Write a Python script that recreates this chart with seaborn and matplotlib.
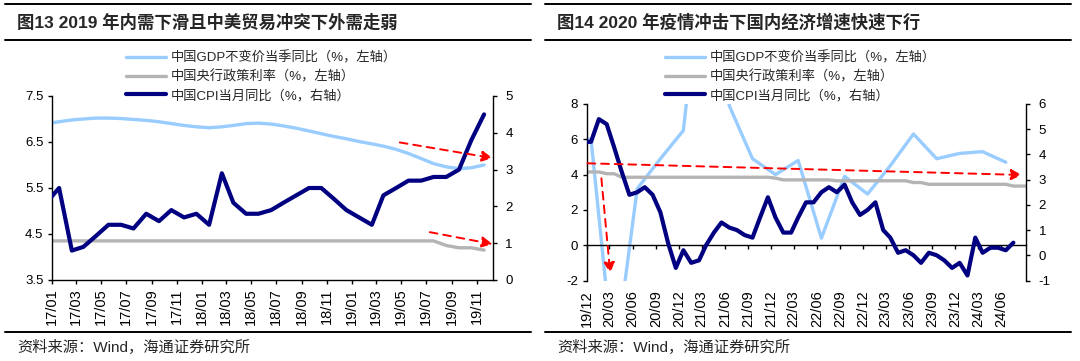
import pandas as pd
import matplotlib.pyplot as plt
from matplotlib.lines import Line2D
import matplotlib.dates as mdates
import seaborn as sns

# ---------------- data: left chart (monthly, 16/12 - 19/11) ----------------
p1_start, p1_end = "2016-12", "2019-11"
p1_gdp = [6.90, 6.94, 6.98, 7.00, 7.02, 7.02, 7.01, 6.99, 6.97, 6.94, 6.90, 6.86,
          6.83, 6.81, 6.83, 6.86, 6.90, 6.91, 6.89, 6.85, 6.80, 6.74, 6.68, 6.62,
          6.57, 6.51, 6.46, 6.41, 6.34, 6.25, 6.14, 6.03, 5.96, 5.92, 5.94, 6.00]
p1_rate = [4.35, 4.35, 4.35, 4.35, 4.35, 4.35, 4.35, 4.35, 4.35, 4.35, 4.35, 4.35,
           4.35, 4.35, 4.35, 4.35, 4.35, 4.35, 4.35, 4.35, 4.35, 4.35, 4.35, 4.35,
           4.35, 4.35, 4.35, 4.35, 4.35, 4.35, 4.35, 4.35, 4.25, 4.20, 4.20, 4.15]
p1_cpi = [2.1, 2.5, 0.8, 0.9, 1.2, 1.5, 1.5, 1.4, 1.8, 1.6, 1.9, 1.7, 1.8,
          1.5, 2.9, 2.1, 1.8, 1.8, 1.9, 2.1, 2.3, 2.5, 2.5, 2.2, 1.9,
          1.7, 1.5, 2.3, 2.5, 2.7, 2.7, 2.8, 2.8, 3.0, 3.8, 4.5]
p1_tick_start, p1_tick_end = "2017-01-01", "2019-11-01"
p1_xmax = "2019-12-10"
p1_left_ticks = [3.5, 4.5, 5.5, 6.5, 7.5]
p1_right_ticks = [0, 1, 2, 3, 4, 5]
# red arrows (start date, start value, end date, end value), left-axis units
p1_arrows = [("2019-04-28", 6.49, "2019-12-10", 6.15),
             ("2019-07-10", 4.54, "2019-12-10", 4.28)]

# ---------------- data: right chart (monthly, 19/11 - 24/09) ----------------
p2_rate_start, p2_rate_end = "2019-11", "2024-09"
p2_rate = [4.15, 4.15, 4.15, 4.05, 4.05,
           3.85, 3.85, 3.85, 3.85, 3.85, 3.85, 3.85, 3.85, 3.85, 3.85,
           3.85, 3.85, 3.85, 3.85, 3.85, 3.85, 3.85, 3.85, 3.85, 3.85,
           3.80, 3.70, 3.70, 3.70, 3.70, 3.70, 3.70, 3.70,
           3.65, 3.65, 3.65, 3.65, 3.65, 3.65, 3.65, 3.65, 3.65, 3.65,
           3.55, 3.55, 3.45, 3.45, 3.45, 3.45, 3.45, 3.45, 3.45, 3.45,
           3.45, 3.45, 3.45, 3.35, 3.35, 3.35]
p2_cpi_start, p2_cpi_end = "2019-11", "2024-07"
p2_cpi = [4.5, 4.5,
          5.4, 5.2, 4.3, 3.3, 2.4, 2.5, 2.7, 2.4, 1.7, 0.5, -0.5, 0.2,
          -0.3, -0.2, 0.4, 0.9, 1.3, 1.1, 1.0, 0.8, 0.7, 1.5, 2.3, 1.5,
          0.9, 0.9, 1.5, 2.1, 2.1, 2.5, 2.7, 2.5, 2.8, 2.1, 1.6, 1.8,
          2.1, 1.0, 0.7, 0.1, 0.2, 0.0, -0.3, 0.1, 0.0, -0.2, -0.5, -0.3,
          -0.8, 0.7, 0.1, 0.3, 0.3, 0.2, 0.5]
p2_gdp_start, p2_gdp_end = "2019-09", "2024-06"
p2_gdp = [6.0, 6.0, -6.8, 3.2, 4.9, 6.5, 18.3, 7.9, 4.9, 4.0,
          4.8, 0.4, 3.9, 2.9, 4.5, 6.3, 4.9, 5.2, 5.3, 4.7]
p2_tick_start, p2_tick_end = "2019-12-01", "2024-06-01"
p2_xmax = "2024-09-07"
p2_left_ticks = [-2, 0, 2, 4, 6, 8]
p2_right_ticks = [-1, 0, 1, 2, 3, 4, 5, 6]
p2_arrows = [("2019-12-05", 4.64, "2024-08-22", 3.98),
             ("2020-01-29", 3.79, "2020-03-04", -1.59)]

titles = ["图13 2019 年内需下滑且中美贸易冲突下外需走弱",
          "图14 2020 年疫情冲击下国内经济增速快速下行"]
legend_labels = ["中国GDP不变价当季同比（%，左轴）",
                 "中国央行政策利率（%，左轴）",
                 "中国CPI当月同比（%，右轴）"]
source = "资料来源：Wind，海通证券研究所"

GDP_C, RATE_C, CPI_C = "#99CCFF", "#B4B4B4", "#000080"


def month_points(start, end, freq="MS"):
    # Wind exports plot each month's value a bit past the start of the month
    return pd.date_range(start, end, freq=freq) + pd.Timedelta(days=18)


sns.set_theme(style="ticks")
plt.rcParams["font.family"] = ["Liberation Sans", "Noto Sans CJK SC"]
plt.rcParams["axes.linewidth"] = 1.0

W, H = 1080, 361
fig = plt.figure(figsize=(W / 100, H / 100), dpi=100, facecolor="white")


def fx(px):
    return px / W


def fy(py):
    return 1 - py / H


def style_axes(ax, axr):
    for a in (ax, axr):
        a.set_xlabel("")
        a.set_ylabel("")
        a.spines["top"].set_visible(False)
        for s in a.spines.values():
            s.set_color("black")
    ax.spines["right"].set_visible(False)
    axr.spines["left"].set_visible(False)
    ax.tick_params(axis="y", direction="out", length=3, width=1, color="black",
                   labelsize=9.5, pad=3, labelcolor="black")
    axr.tick_params(axis="y", direction="out", length=3, width=1, color="black",
                    labelsize=9.5, pad=6, labelcolor="black", right=True)


def draw_arrows(ax_top, ax_base, arrows):
    for x0, y0, x1, y1 in arrows:
        ax_top.annotate("", xy=(mdates.date2num(pd.Timestamp(x1)), y1),
                        xytext=(mdates.date2num(pd.Timestamp(x0)), y0),
                        xycoords=ax_base.transData, textcoords=ax_base.transData,
                        arrowprops=dict(arrowstyle="-|>", color="#FF0000", lw=1.4,
                                        linestyle=(0, (4, 3)), mutation_scale=16,
                                        shrinkA=0, shrinkB=0))


# ---------------- left chart ----------------
ax1 = fig.add_axes([fx(51.7), fy(280), fx(441), 184 / H])
ax1r = ax1.twinx()
ax1.patch.set_alpha(0)
sns.lineplot(x=month_points(p1_start, p1_end), y=p1_gdp, ax=ax1, color=GDP_C, lw=2.4)
sns.lineplot(x=month_points(p1_start, p1_end), y=p1_rate, ax=ax1, color=RATE_C, lw=2.4)
sns.lineplot(x=month_points(p1_start, p1_end), y=p1_cpi, ax=ax1r, color=CPI_C, lw=3.0)
ax1.set_ylim(p1_left_ticks[0], p1_left_ticks[-1])
ax1r.set_ylim(p1_right_ticks[0], p1_right_ticks[-1])
ax1.set_yticks(p1_left_ticks, [f"{v:.1f}" for v in p1_left_ticks])
ax1r.set_yticks(p1_right_ticks, [str(v) for v in p1_right_ticks])
t1 = pd.date_range(p1_tick_start, p1_tick_end, freq="2MS")
ax1.set_xticks(t1, [d.strftime("%y/%m") for d in t1])
ax1.set_xlim(pd.Timestamp(p1_tick_start), pd.Timestamp(p1_xmax))
style_axes(ax1, ax1r)
ax1.tick_params(axis="x", direction="out", length=3, width=1, color="black",
                labelsize=10.5, pad=3, labelrotation=90, labelcolor="black")
ax1r.spines["bottom"].set_visible(False)
draw_arrows(ax1r, ax1, p1_arrows)

# ---------------- right chart ----------------
ax2 = fig.add_axes([fx(586.5), fy(280.5), fx(439.5), 176.5 / H])
ax2r = ax2.twinx()
sns.lineplot(x=month_points(p2_gdp_start, p2_gdp_end, "3MS"), y=p2_gdp, ax=ax2,
             color=GDP_C, lw=2.4)
sns.lineplot(x=month_points(p2_rate_start, p2_rate_end), y=p2_rate, ax=ax2,
             color=RATE_C, lw=2.4)
sns.lineplot(x=month_points(p2_cpi_start, p2_cpi_end), y=p2_cpi, ax=ax2r,
             color=CPI_C, lw=3.0)
ax2.set_ylim(p2_left_ticks[0], p2_left_ticks[-1])
ax2r.set_ylim(p2_right_ticks[0], p2_right_ticks[-1])
ax2.set_yticks(p2_left_ticks, [str(v) for v in p2_left_ticks])
ax2r.set_yticks(p2_right_ticks, [str(v) for v in p2_right_ticks])
t2 = pd.date_range(p2_tick_start, p2_tick_end, freq="3MS")
ax2.set_xticks(t2, [d.strftime("%y/%m") for d in t2])
ax2.set_xlim(pd.Timestamp(p2_tick_start), pd.Timestamp(p2_xmax))
style_axes(ax2, ax2r)
# x axis line sits at zero of the left axis, labels stay at the bottom
ax2.spines["bottom"].set_position(("data", 0))
ax2.tick_params(axis="x", direction="out", length=3, width=1, color="black",
                labelbottom=False)
ax2r.xaxis.set_visible(True)
ax2r.spines["bottom"].set_visible(False)
ax2r.tick_params(axis="x", bottom=True, length=0, labelbottom=True, labelsize=10.5,
                 pad=7, labelrotation=90, labelcolor="black")
draw_arrows(ax2r, ax2, p2_arrows)

# ---------------- frame text, rules, legends ----------------
handles = [Line2D([], [], color=GDP_C, lw=2.4),
           Line2D([], [], color=RATE_C, lw=2.4),
           Line2D([], [], color=CPI_C, lw=3.0)]
for x0, title, leg_x in [(0, titles[0], 126), (540, titles[1], 665)]:
    fig.add_artist(Line2D([fx(x0 + 5), fx(x0 + 531)], [fy(4), fy(4)], color="black", lw=1.4))
    fig.add_artist(Line2D([fx(x0 + 5), fx(x0 + 531)], [fy(39.5), fy(39.5)], color="black", lw=1.4))
    fig.add_artist(Line2D([fx(x0 + 5), fx(x0 + 531)], [fy(331.5), fy(331.5)], color="black", lw=1.4))
    fig.text(fx(x0 + 17), fy(22), title, fontsize=12.5, fontweight="bold", va="center")
    fig.text(fx(x0 + 17), fy(347.5), source, fontsize=11, va="center")
    fig.legend(handles, legend_labels, loc="upper left", bbox_to_anchor=(fx(leg_x), fy(51.5)),
               frameon=False, fontsize=9.5, handlelength=3.0, handletextpad=0.4,
               labelspacing=0.42, borderpad=0, borderaxespad=0)

fig.savefig("out.png", dpi=100, facecolor="white")
